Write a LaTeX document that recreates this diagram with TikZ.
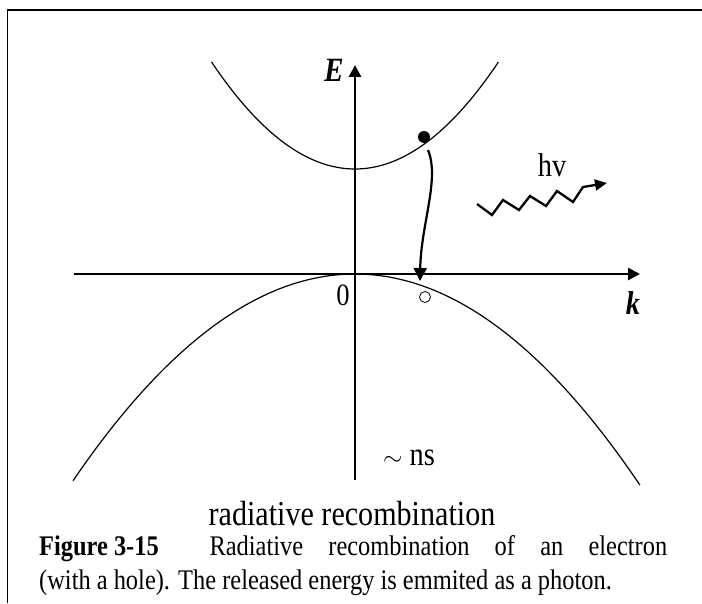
\documentclass[tikz,border=0pt]{standalone}
\usepackage{fontspec}
\setmainfont{Liberation Serif}[FakeStretch=0.86]
\usetikzlibrary{arrows.meta}

\tikzset{
    axis/.style={line width=2.8pt,-{Triangle[length=12pt,width=12pt]}},
    band/.style={line width=1.2pt,samples=100},
    photon/.style={line width=2.3pt,line join=miter,-{Triangle[length=12pt,width=11pt]}},
    lab/.style={inner sep=0pt,font=\fontsize{33}{33}\selectfont},
}

\begin{document}
\begin{tikzpicture}[x=1pt,y=1pt]
    \useasboundingbox (-355,-329) rectangle (347,274);
    \draw[line width=1.6pt] (-347.5,-329) -- (-347.5,264) -- (347,264);
    \draw[axis] (-281,0) -- (285,0);
    \draw[axis] (0,-206) -- (0,209);
    \node[lab,font=\fontsize{34}{34}\selectfont\bfseries\itshape] (Elab) at (-21,204) {E};
    \node[lab,font=\fontsize{33}{33}\selectfont\bfseries\itshape] (klab) at (278,-29) {k};
    \node[lab,font=\fontsize{31}{31}\selectfont] (zero) at (-12,-21) {0};
    \draw[band,domain=-1.435:1.435] plot ({100*\x},{105+52*\x*\x});
    \draw[band,domain=-2.82:2.85] plot ({100*\x},{-26*\x*\x});
    \node[circle,fill,minimum size=12pt,inner sep=0pt] (electron) at (69,137) {};
    \node[circle,draw,line width=0.8pt,minimum size=11pt,inner sep=0pt] (hole) at (70,-23) {};
    \coordinate (jump) at (73,124);
    \coordinate (land) at (65,-7);
    \draw[line width=2.2pt,-{Triangle[length=13pt,width=13pt]}] (jump) .. controls (85,95) and (66,50) .. (land);
    \draw[photon] (122,70) -- (137,59) -- (148,74) -- (164,64) -- (175,78) -- (191,68)
        -- (202,83) -- (218,72) -- (228,87) -- (252,91);
    \node[lab] (hnu) at (197,109) {hv};
    \node[lab,anchor=base] (tau) at (54,-191) {$\sim$ ns};
    \node[lab,anchor=base,font=\fontsize{35}{35}\selectfont] (title) at (-3,-251) {radiative recombination};
    \node[anchor=base west,text width=628pt,align=justify,inner sep=0pt,
        font=\fontsize{28.4}{34}\selectfont] (caption) at (-316,-281)
        {\mbox{\textbf{Figure 3-15}}\hspace{0.9em} Radiative recombination of an electron\linebreak
        (with a hole). The released energy is emmited as a photon.};
\end{tikzpicture}
\end{document}
